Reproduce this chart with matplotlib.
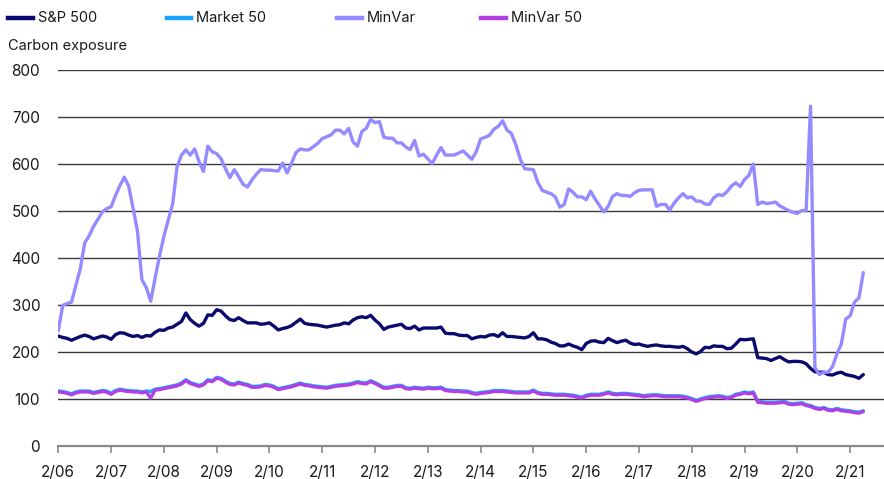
import numpy as np
import matplotlib
matplotlib.use("Agg")
import matplotlib.pyplot as plt
from matplotlib.lines import Line2D

plt.rcParams['font.family'] = ['Inter', 'DejaVu Sans']

series_names = ["S&P 500", "Market 50", "MinVar", "MinVar 50"]
x_labels = ["2/06", "2/07", "2/08", "2/09", "2/10", "2/11", "2/12", "2/13",
            "2/14", "2/15", "2/16", "2/17", "2/18", "2/19", "2/20", "2/21"]
y_ticks = [0, 100, 200, 300, 400, 500, 600, 700, 800]
y_title = "Carbon exposure"

sp500 = [
    234, 231, 229, 225, 229, 233, 236, 233, 228, 231, 234, 232, 227, 237, 241, 240, 236, 233, 235, 231,
    235, 234, 242, 247, 246, 251, 253, 259, 265, 283, 269, 261, 255, 261, 279, 278, 290, 287, 277, 269,
    267, 273, 267, 262, 262, 262, 259, 260, 262, 255, 247, 250, 252, 256, 263, 270, 261, 259, 258, 257,
    255, 253, 255, 257, 258, 262, 260, 268, 273, 275, 273, 278, 268, 260, 248, 253, 255, 257, 259, 251,
    250, 255, 247, 251, 251, 251, 251, 253, 240, 239, 239, 236, 235, 235, 228, 231, 233, 232, 236, 237,
    233, 241, 233, 233, 232, 231, 230, 233, 241, 228, 228, 226, 221, 218, 213, 213, 217, 213, 210, 205,
    218, 223, 224, 221, 220, 229, 224, 220, 223, 225, 219, 216, 217, 214, 212, 214, 215, 213, 212, 212,
    211, 210, 212, 207, 200, 196, 201, 210, 209, 213, 212, 212, 207, 208, 217, 227, 226, 227, 228, 188,
    187, 186, 182, 186, 190, 184, 179, 180, 180, 179, 175, 165, 158, 157, 157, 152, 151, 155, 157, 152,
    150, 148, 144, 152,
]

market50 = [
    117, 116, 114, 111, 115, 117, 117, 117, 114, 116, 118, 117, 112, 118, 121, 119, 118, 117, 117, 115,
    117, 116, 121, 122, 124, 126, 128, 130, 134, 141, 135, 132, 129, 132, 141, 139, 146, 144, 138, 133,
    132, 136, 133, 131, 127, 127, 128, 131, 130, 127, 122, 124, 126, 128, 131, 134, 131, 130, 128, 127,
    126, 125, 127, 129, 130, 131, 132, 134, 137, 135, 134, 139, 135, 130, 125, 125, 127, 129, 129, 124,
    123, 125, 124, 123, 125, 124, 124, 125, 120, 119, 118, 118, 117, 117, 114, 112, 114, 115, 116, 118,
    118, 118, 117, 116, 115, 115, 115, 115, 119, 114, 112, 112, 111, 110, 110, 110, 109, 108, 106, 104,
    108, 110, 110, 110, 112, 115, 112, 111, 112, 112, 111, 110, 109, 107, 108, 109, 109, 108, 107, 107,
    107, 107, 106, 104, 101, 97, 100, 103, 105, 106, 107, 106, 103, 105, 110, 112, 115, 113, 115, 95,
    94, 93, 93, 93, 94, 95, 91, 90, 91, 92, 88, 86, 82, 80, 82, 78, 77, 80, 77, 76,
    75, 73, 72, 75,
]

minvar = [
    245, 299, 303, 306, 342, 377, 432, 447, 467, 482, 498, 505, 509, 533, 554, 572, 553, 506, 457, 354,
    337, 308, 357, 404, 446, 481, 515, 594, 619, 630, 619, 632, 605, 584, 638, 626, 622, 611, 590, 571,
    588, 573, 557, 551, 566, 578, 588, 587, 587, 586, 585, 602, 581, 601, 624, 632, 630, 630, 637, 644,
    654, 658, 662, 672, 672, 664, 676, 647, 638, 669, 676, 695, 688, 690, 657, 655, 655, 645, 645, 636,
    631, 650, 617, 621, 611, 601, 619, 635, 619, 619, 619, 623, 628, 619, 610, 626, 653, 657, 661, 674,
    680, 692, 672, 665, 641, 611, 590, 589, 588, 561, 544, 540, 537, 530, 508, 514, 547, 540, 530, 530,
    524, 542, 526, 512, 498, 510, 531, 537, 533, 533, 531, 539, 544, 545, 545, 545, 510, 514, 514, 502,
    517, 528, 537, 528, 530, 521, 521, 515, 514, 528, 535, 533, 541, 553, 560, 552, 567, 576, 600, 514,
    519, 516, 517, 519, 511, 506, 501, 497, 495, 501, 501, 723, 167, 152, 157, 157, 169, 196, 217, 270,
    277, 306, 315, 369,
]

minvar50 = [
    115, 114, 112, 109, 113, 115, 115, 115, 112, 114, 116, 115, 110, 116, 119, 117, 116, 115, 115, 113,
    115, 102, 119, 120, 122, 124, 126, 128, 132, 139, 133, 130, 127, 130, 139, 137, 144, 142, 136, 131,
    130, 134, 131, 129, 125, 125, 126, 129, 128, 125, 120, 122, 124, 126, 129, 132, 129, 128, 126, 125,
    124, 123, 125, 127, 128, 129, 130, 132, 135, 133, 132, 137, 133, 128, 123, 123, 125, 127, 127, 122,
    121, 123, 122, 121, 123, 122, 122, 123, 118, 117, 116, 116, 115, 115, 112, 110, 112, 113, 114, 116,
    116, 116, 115, 114, 113, 113, 113, 113, 117, 112, 110, 110, 109, 108, 108, 108, 107, 106, 104, 102,
    106, 108, 108, 108, 110, 113, 110, 109, 110, 110, 109, 108, 107, 105, 106, 107, 107, 106, 105, 105,
    105, 105, 104, 102, 99, 95, 98, 101, 103, 104, 105, 104, 101, 103, 108, 110, 113, 111, 113, 93,
    92, 91, 91, 91, 92, 93, 89, 88, 89, 90, 86, 84, 80, 78, 80, 76, 75, 78, 75, 74,
    73, 71, 70, 73,
]

colors = ["#0a0a6e", "#1aa3ff", "#938bff", "#b23fe6"]

W, H = 884, 479
fig = plt.figure(figsize=(W / 100, H / 100), dpi=100)
ax = fig.add_axes([58.3 / W, 1 - 446 / H, 1 - 58.3 / W, (446 - 70) / H])

n = len(sp500)
assert len(market50) == n and len(minvar) == n and len(minvar50) == n
x = np.arange(n)

for yv in y_ticks[1:]:
    ax.axhline(yv, color="#3a3a3a", lw=1.0, zorder=1)

data = [sp500, market50, minvar, minvar50]
for vals, c in zip(data, colors):
    ax.plot(x, vals, color=c, lw=2.4, solid_joinstyle="round", solid_capstyle="round", zorder=3)

ax.set_xlim(0, 187.7)
ax.set_ylim(0, 800)
ax.set_yticks(y_ticks)
ax.set_yticklabels([str(v) for v in y_ticks])
ax.set_xticks(np.arange(len(x_labels)) * 12)
ax.set_xticklabels(x_labels)

for s in ["top", "right", "left"]:
    ax.spines[s].set_visible(False)
ax.spines["bottom"].set_color("#8a8a8a")
ax.spines["bottom"].set_linewidth(1.6)
ax.tick_params(axis="y", length=0, pad=13, labelsize=11, labelcolor="#1a1a1a")
ax.tick_params(axis="x", length=5, width=1.2, color="#8a8a8a", pad=9, labelsize=11, labelcolor="#1a1a1a")

fig.text(8 / W, 1 - 46 / H, y_title, fontsize=10.5, color="#1a1a1a", va="center", ha="left")

leg_handles = [(8, 33), (167, 191), (337, 362), (481, 506)]
for (x0, x1), name, c in zip(leg_handles, series_names, colors):
    fig.add_artist(Line2D([x0 / W, x1 / W], [1 - 18 / H, 1 - 18 / H], color=c, lw=3.2,
                          transform=fig.transFigure))
    fig.text((x1 + 5) / W, 1 - 18 / H, name, fontsize=10.5, color="#1a1a1a", va="center", ha="left")

fig.savefig("out.png", dpi=100)
